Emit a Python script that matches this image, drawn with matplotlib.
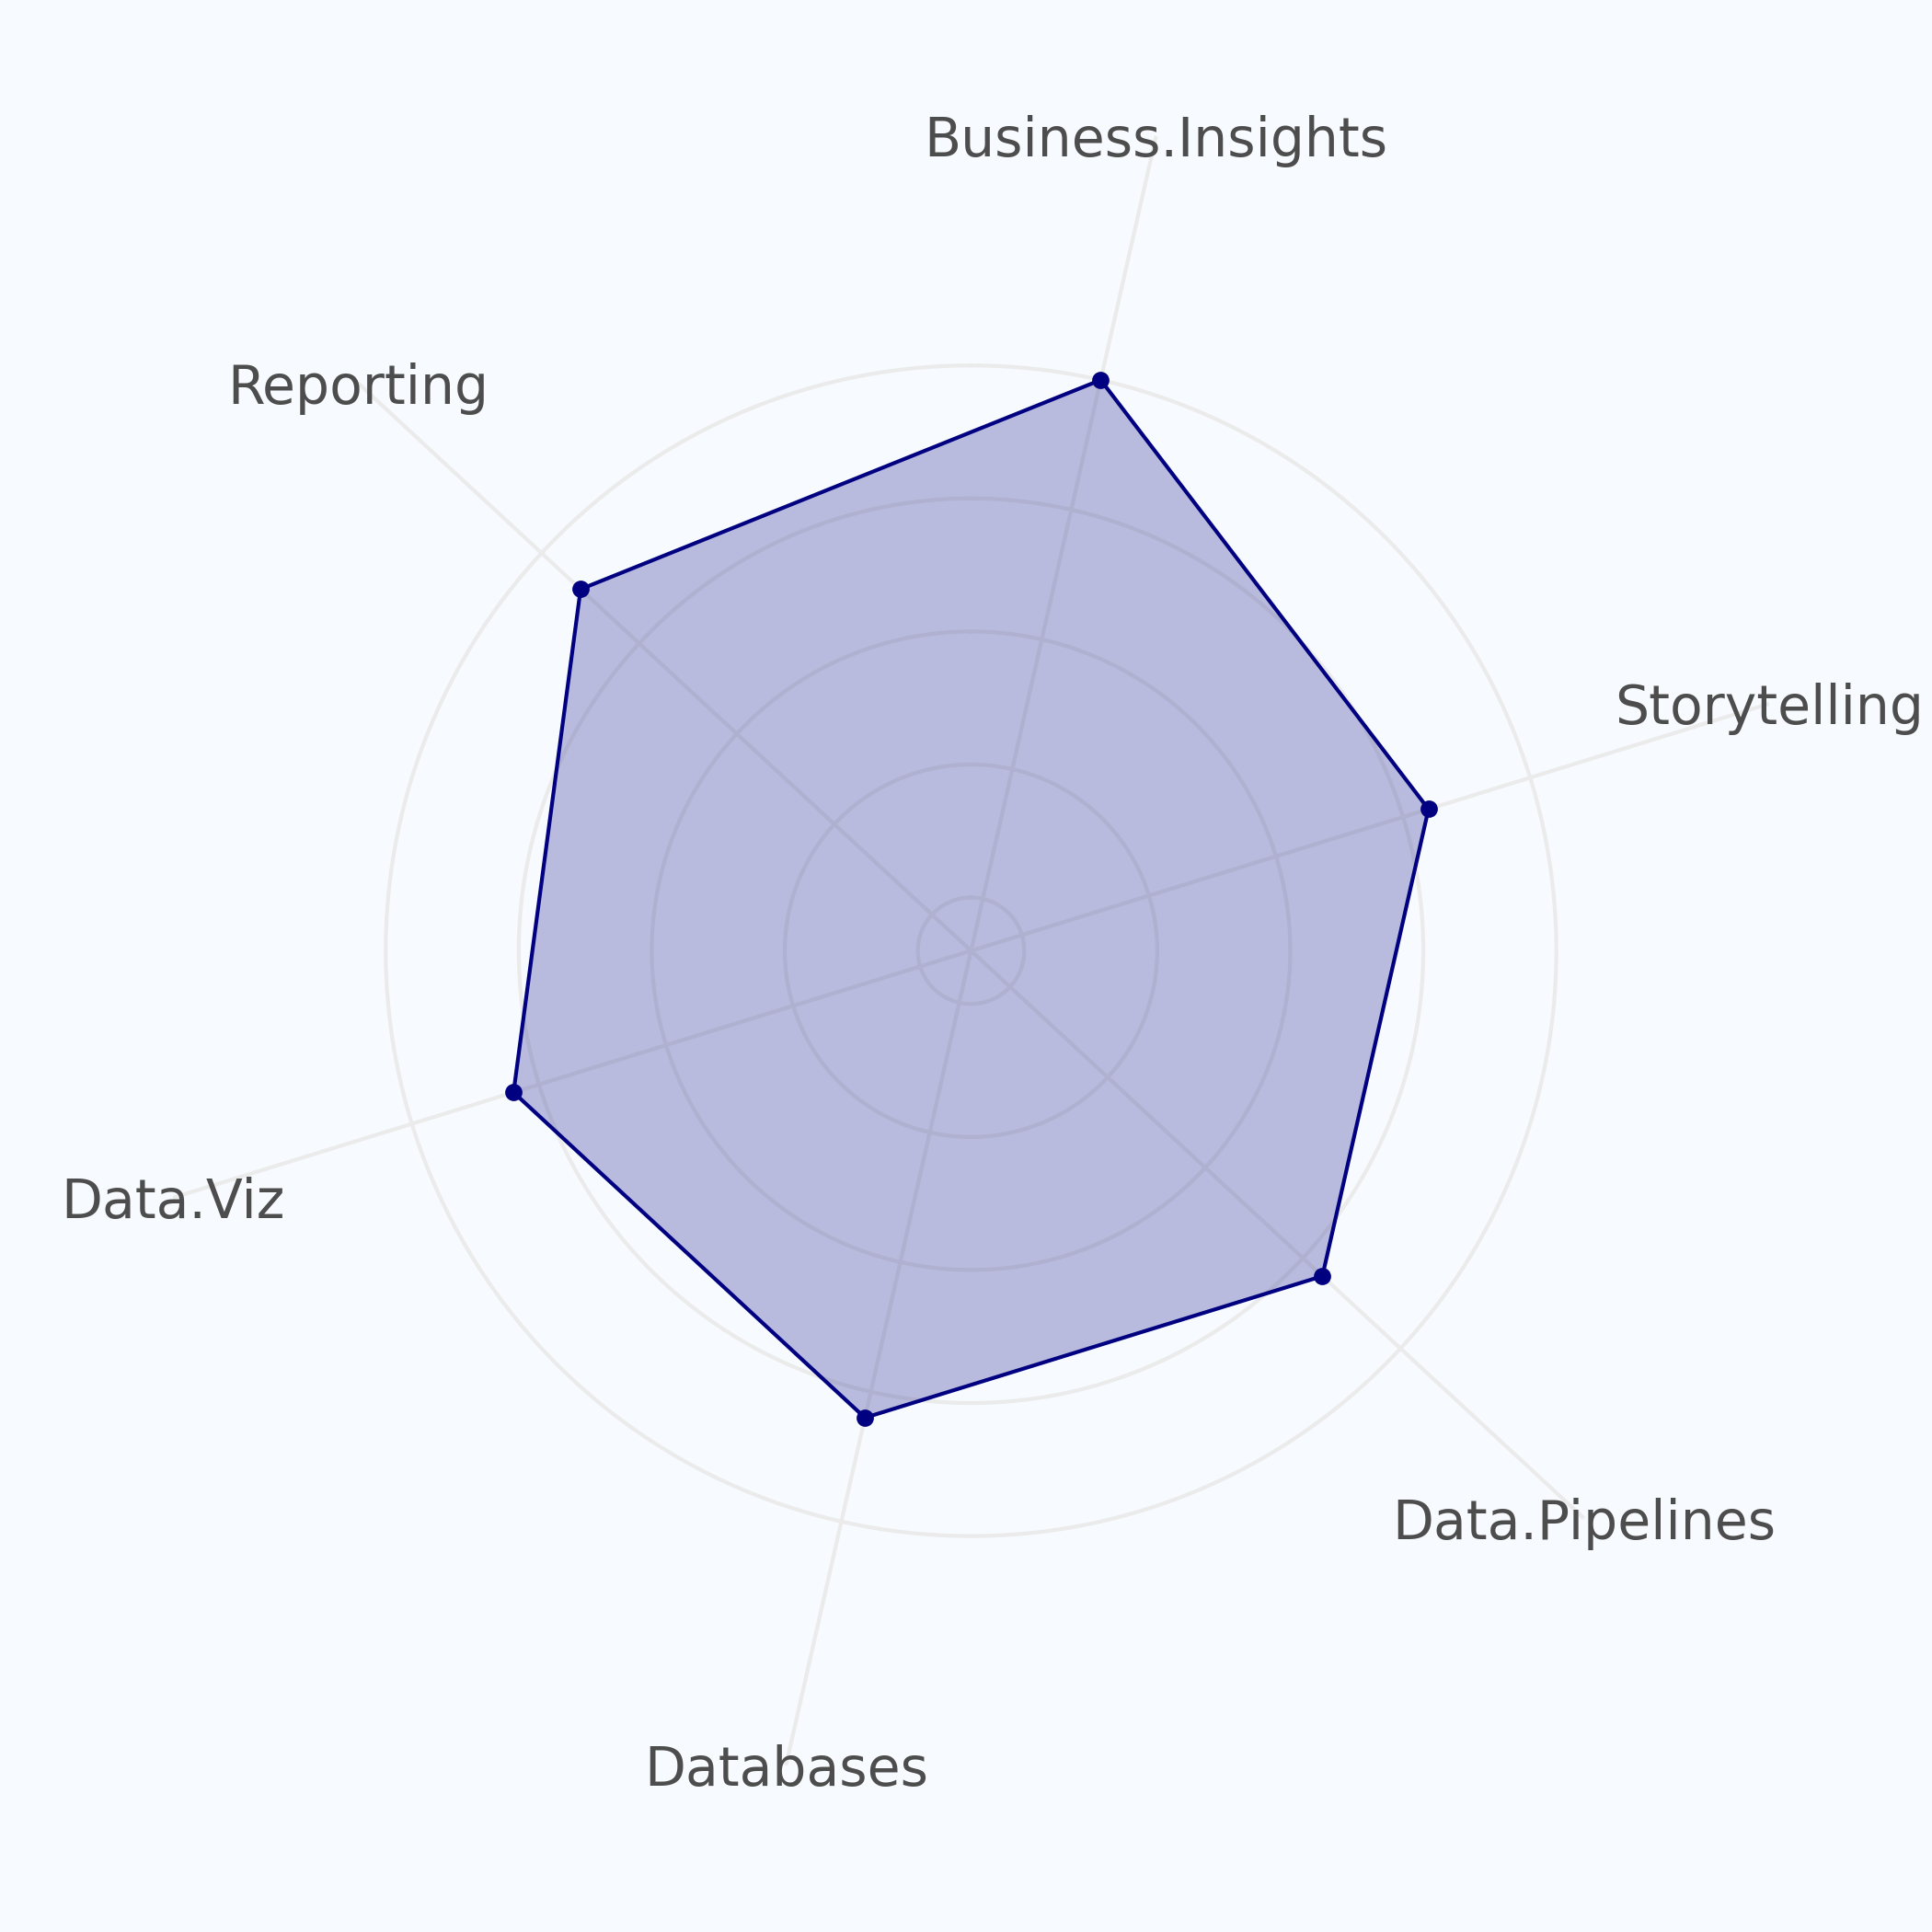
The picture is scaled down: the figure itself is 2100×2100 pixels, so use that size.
import matplotlib.pyplot as plt
from matplotlib.transforms import offset_copy
import numpy as np

# skill scores (0-100)
skills = ["Business.Insights", "Storytelling", "Data.Pipelines",
          "Databases", "Data.Viz", "Reporting"]
scores = [100, 80, 80, 80, 80, 90]
grid_levels = [0, 25, 50, 75, 100]

r_min = -10      # inner offset so that 0 is a small circle
r_label = 147    # where spokes end / labels sit
start_deg = 12.8

bg = "#F7FAFE"
grid_col = "#EBEBEB"
line_col = "navy"

fig = plt.figure(figsize=(7, 7), dpi=300, facecolor=bg)
ax = fig.add_axes([0.0702, 0.0755, 0.8648, 0.8648], projection="polar")
ax.set_facecolor(bg)
ax.set_theta_zero_location("N")
ax.set_theta_direction(-1)
ax.set_ylim(r_min, r_label)
ax.grid(False)
ax.set_xticks([])
ax.set_yticks([])
ax.spines["polar"].set_visible(False)

n = len(skills)
angles = np.deg2rad(start_deg + np.arange(n) * 360 / n)

# grid circles
full = np.linspace(0, 2 * np.pi, 400)
for lev in grid_levels:
    ax.plot(full, np.full_like(full, lev), color=grid_col, lw=1.0, zorder=1)

# spokes + labels (labels nudged down a touch)
lab_tr = offset_copy(ax.transData, fig=fig, y=-1.4, units="points")
for a, name in zip(angles, skills):
    ax.plot([a, a], [r_min, r_label], color=grid_col, lw=1.0, zorder=1)
    ax.text(a, r_label, name, ha="center", va="center", fontsize=14,
            color="#4D4D4D", zorder=5, transform=lab_tr)

# data polygon
a_closed = np.append(angles, angles[0])
s_closed = np.append(scores, scores[0])
ax.fill(a_closed, s_closed, color=line_col, alpha=0.25, lw=0, zorder=2)
ax.plot(a_closed, s_closed, color=line_col, lw=1, zorder=3)
ax.plot(angles, scores, "o", color=line_col, markersize=3.5, zorder=4)

fig.savefig("out.png", dpi=300, facecolor=bg)
